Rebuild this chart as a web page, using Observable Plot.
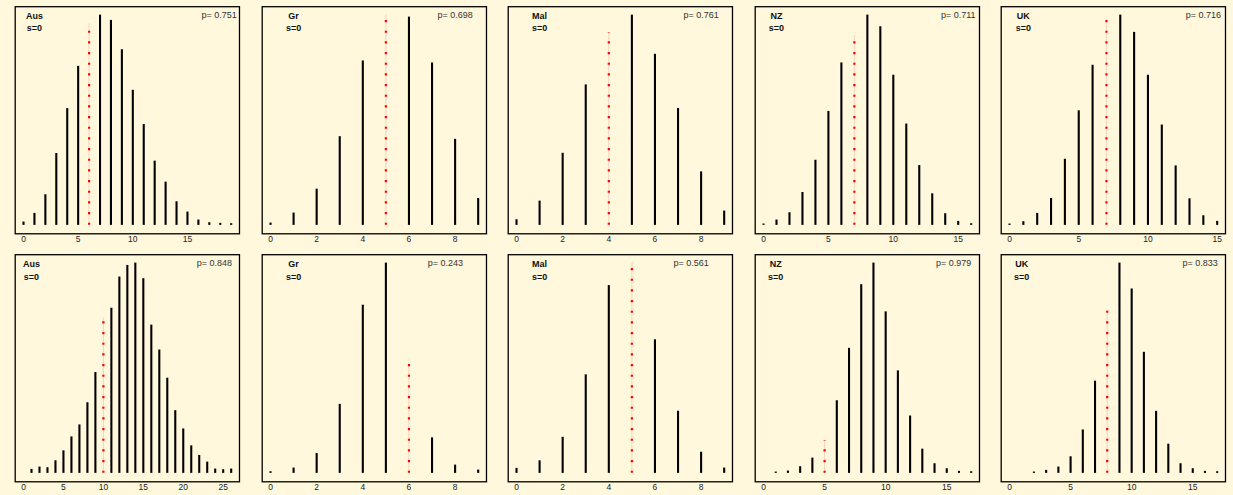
<!DOCTYPE html>
<html><head><meta charset="utf-8">
<script src="https://cdn.jsdelivr.net/npm/d3@7"></script>
<script src="https://cdn.jsdelivr.net/npm/@observablehq/plot@0.6"></script>
<style>
html,body{margin:0;padding:0;background:#FFF8DC;}
#wrap{position:relative;width:1233px;height:495px;overflow:hidden;background:#FFF8DC;}
.cell{position:absolute;}
</style></head><body><div id="wrap"></div>
<script>
// ---- data (relative bar heights) ----
const countries = ["Aus", "Gr", "Mal", "NZ", "UK"];
const sLabel = "s=0";
const pTop = [0.751, 0.698, 0.761, 0.711, 0.716];
const pBot = [0.848, 0.243, 0.561, 0.979, 0.833];
const obsTop = [6, 5, 4, 7, 7];
const obsBot = [10, 6, 5, 5, 8];

const ausTop = [10, 36, 92, 216, 351, 478, 606, 632, 616, 528, 406, 303, 193, 130, 71, 40, 16, 8, 6, 5];
const grTop  = [7, 37, 109, 267, 495, 633, 627, 489, 259, 81];
const malTop = [17, 73, 217, 423, 580, 633, 515, 352, 161, 43];
const nzTop  = [4, 16, 38, 99, 196, 343, 489, 572, 633, 598, 452, 305, 180, 95, 35, 12, 5];
const ukTop  = [4, 11, 36, 81, 199, 345, 482, 619, 633, 581, 452, 302, 179, 80, 29, 12];

const ausBot = [0, 12, 19, 17, 38, 68, 110, 146, 213, 304, 468, 498, 592, 627, 634, 587, 447, 372, 287, 189, 134, 83, 54, 34, 13, 11, 13];
const grBot  = [5, 16, 60, 208, 507, 634, 328, 107, 25, 10];
const malBot = [15, 38, 109, 298, 568, 636, 404, 188, 64, 16];
const nzBot  = [0, 4, 7, 20, 46, 98, 219, 377, 569, 634, 487, 309, 173, 73, 29, 14, 6, 5];
const ukBot  = [0, 0, 4, 9, 19, 50, 131, 278, 492, 634, 556, 365, 187, 88, 29, 14, 6, 5];

const ticksTop = [[0, 5, 10, 15], [0, 2, 4, 6, 8], [0, 2, 4, 6, 8], [0, 5, 10, 15], [0, 5, 10, 15]];
const ticksBot = [[0, 5, 10, 15, 20, 25], [0, 2, 4, 6, 8], [0, 2, 4, 6, 8], [0, 5, 10, 15], [0, 5, 10, 15]];

// ---- layout ----
const cellW = 1233 / 5, cellH = 495 / 2;
const pLabelX = [[17.9, 8, 8, 15, 14], [23.9, 7.58, 7.57, 15.56, 15.6]];

const rows = [
  {vals: [ausTop, grTop, malTop, nzTop, ukTop], obs: obsTop, p: pTop, ticks: ticksTop},
  {vals: [ausBot, grBot, malBot, nzBot, ukBot], obs: obsBot, p: pBot, ticks: ticksBot}
];

const font = "'Liberation Sans', Arial, Helvetica, sans-serif";

function panel(vals, obs, p, name, ticks, pX, row) {
  const data = vals.map((v, i) => ({x: i, v, obs: i === obs}));
  const n = vals.length - 1;
  const M = d3.max(vals);
  const xpad = 0.04 * n, ypad = 0.04 * M;
  return Plot.plot({
    width: cellW, height: cellH,
    marginLeft: 14.7, marginRight: 7.6, marginTop: 6.2, marginBottom: 14.2,
    style: {background: "transparent", fontFamily: font, fontSize: "8.5px", color: "#222", overflow: "visible"},
    x: {domain: [-xpad, n + xpad], ticks: ticks, tickSize: 0, tickPadding: 2.2, tickFormat: d => String(d), label: null},
    y: {domain: [-ypad, M + ypad], axis: null},
    marks: [
      Plot.ruleX(data.filter(d => !d.obs && d.v > 0), {x: "x", y1: 0, y2: "v", stroke: "black", strokeWidth: 2.1}),
      Plot.ruleX(data.filter(d => d.obs), {x: "x", y1: 0, y2: "v", stroke: "#f5d2c2", strokeWidth: 1}),
      Plot.ruleX(data.filter(d => d.obs), {x: "x", y1: 0, y2: "v", stroke: "#ff0000", strokeWidth: 2.2, strokeDasharray: "2.2,8.47"}),
      Plot.frame({stroke: "black", strokeWidth: 1.3}),
      Plot.text([name], {x: 1, y: M, text: d => d, fontWeight: "bold", fontSize: 9, fill: "#111", dy: row ? 1.2 : 0.5}),
      Plot.text([sLabel], {x: 1, y: M, text: d => d, fontWeight: "bold", fontSize: 9, fill: "#111", dy: row ? 14 : 13}),
      Plot.text(["p= " + p.toFixed(3)], {x: pX, y: M, text: d => d, fontSize: 9, fill: "#333"})
    ]
  });
}

const wrap = document.getElementById("wrap");
rows.forEach((r, ri) => {
  countries.forEach((c, ci) => {
    const div = document.createElement("div");
    div.className = "cell";
    div.style.left = (ci * cellW) + "px";
    div.style.top = (ri * cellH) + "px";
    div.appendChild(panel(r.vals[ci], r.obs[ci], r.p[ci], c, r.ticks[ci], pLabelX[ri][ci], ri));
    wrap.appendChild(div);
  });
});
</script>
</body></html>
